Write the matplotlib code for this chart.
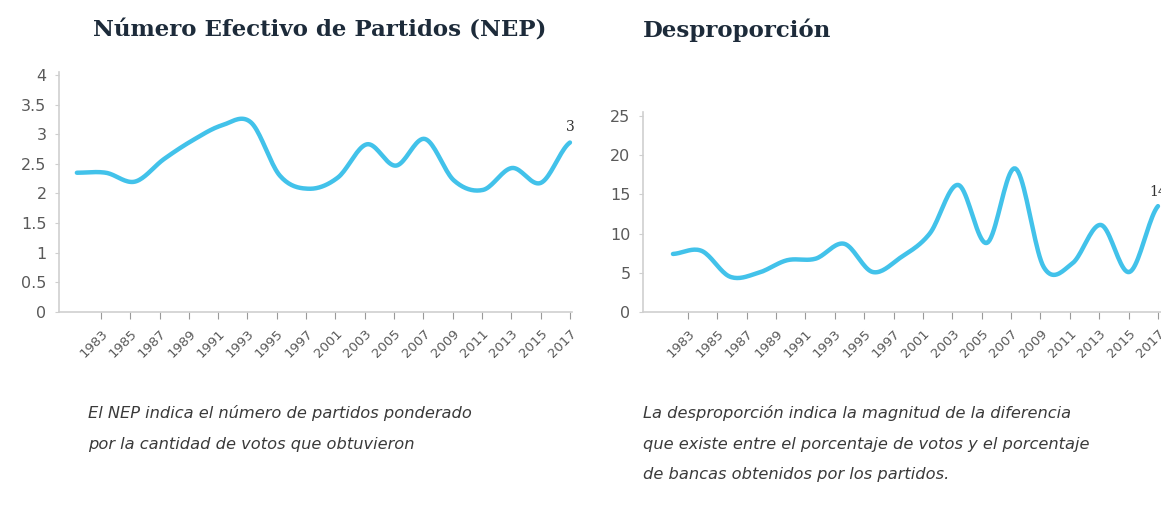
import matplotlib.pyplot as plt
import numpy as np

# etiquetas del eje x (17 marcas, como en el original)
tick_labels = ['1983', '1985', '1987', '1989', '1991', '1993', '1995', '1997',
               '2001', '2003', '2005', '2007', '2009', '2011', '2013', '2015', '2017']

# 18 elecciones 1983-2017
nep = [2.35, 2.35, 2.2, 2.58, 2.9, 3.15, 3.2, 2.3, 2.08,
       2.27, 2.83, 2.47, 2.92, 2.22, 2.06, 2.43, 2.18, 2.86]
desprop = [7.4, 7.8, 4.5, 5.0, 6.6, 6.8, 8.7, 5.1, 7.0,
           10.0, 16.2, 8.8, 18.3, 5.7, 6.2, 11.1, 5.1, 13.5]

LINE = '#42c2ea'
GRAY = '#5a5a5a'
AXC = '#cfcfcf'


def smooth(x, y, n=20):
    # curva catmull-rom entre los puntos
    x = np.asarray(x, float)
    y = np.asarray(y, float)
    px = np.r_[2 * x[0] - x[1], x, 2 * x[-1] - x[-2]]
    py = np.r_[y[0], y, y[-1]]
    xs, ys = [], []
    t = np.linspace(0, 1, n, endpoint=False)
    for i in range(1, len(px) - 2):
        for p, out in ((px, xs), (py, ys)):
            p0, p1, p2, p3 = p[i - 1], p[i], p[i + 1], p[i + 2]
            out.extend(0.5 * ((2 * p1) + (-p0 + p2) * t +
                              (2 * p0 - 5 * p1 + 4 * p2 - p3) * t ** 2 +
                              (-p0 + 3 * p1 - 3 * p2 + p3) * t ** 3))
    xs.append(x[-1])
    ys.append(y[-1])
    return np.array(xs), np.array(ys)


def panel(ax, x0, values, yticks, ylabels, last_label, label_dy):
    x = np.linspace(x0, 16, len(values))
    sx, sy = smooth(x, values)
    ax.plot(sx, sy, color=LINE, lw=3.2, solid_capstyle='round', clip_on=False)
    ax.set_xticks(range(len(tick_labels)))
    ax.set_xticklabels(tick_labels, rotation=45, ha='right', va='top',
                       rotation_mode='anchor', fontsize=9.5, color=GRAY,
                       family='DejaVu Sans')
    ax.set_yticks(yticks)
    ax.set_yticklabels(ylabels, fontsize=11.5, color=GRAY, family='DejaVu Sans')
    for s in ['top', 'right']:
        ax.spines[s].set_visible(False)
    for s in ['left', 'bottom']:
        ax.spines[s].set_color(AXC)
        ax.spines[s].set_linewidth(1.2)
    ax.tick_params(axis='x', length=5, color='#9a9a9a', pad=6)
    ax.tick_params(axis='y', length=3, color=AXC, pad=6)
    ax.annotate(last_label, (x[-1], values[-1]), xytext=(0, label_dy),
                textcoords='offset points', ha='center', va='bottom',
                fontsize=10, color='#333333', family='DejaVu Serif',
                annotation_clip=False)


fig = plt.figure(figsize=(11.61, 5.08), dpi=100)

ax1 = fig.add_axes([59 / 1161, 1 - 312 / 508, 513 / 1161, 240 / 508])
ax1.set_xlim(-1.43, 16.07)
ax1.set_ylim(0, 4.05)
panel(ax1, -0.82, nep, [0, 0.5, 1, 1.5, 2, 2.5, 3, 3.5, 4],
      ['0', '0.5', '1', '1.5', '2', '2.5', '3', '3.5', '4'], '3', 6)

ax2 = fig.add_axes([643 / 1161, 1 - 312 / 508, 532 / 1161, 200 / 508])
ax2.set_xlim(-1.53, 16.58)
ax2.set_ylim(0, 25.5)
panel(ax2, -0.51, desprop, [0, 5, 10, 15, 20, 25],
      ['0', '5', '10', '15', '20', '25'], '14', 5)

title_kw = dict(fontsize=16.5, fontweight='bold', color='#1d2b3a',
                family='DejaVu Serif', va='center', ha='left')
fig.text(93 / 1161, 1 - 30 / 508, 'Número Efectivo de Partidos (NEP)', **title_kw)
fig.text(643 / 1161, 1 - 30 / 508, 'Desproporción', **title_kw)

cap_kw = dict(fontsize=11.7, style='italic', color='#3a3a3a', family='DejaVu Sans',
              va='center', ha='left')
fig.text(88 / 1161, 1 - 413 / 508, 'El NEP indica el número de partidos ponderado', **cap_kw)
fig.text(88 / 1161, 1 - 445 / 508, 'por la cantidad de votos que obtuvieron', **cap_kw)
fig.text(643 / 1161, 1 - 413 / 508, 'La desproporción indica la magnitud de la diferencia', **cap_kw)
fig.text(643 / 1161, 1 - 444 / 508, 'que existe entre el porcentaje de votos y el porcentaje', **cap_kw)
fig.text(643 / 1161, 1 - 474 / 508, 'de bancas obtenidos por los partidos.', **cap_kw)

fig.savefig('out.png', dpi=100)
